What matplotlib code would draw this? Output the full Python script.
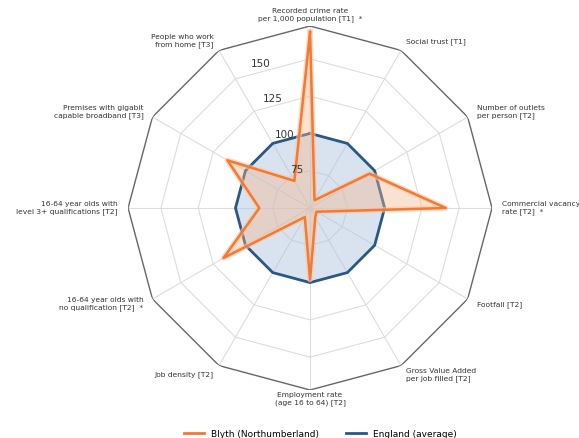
import numpy as np
import matplotlib.pyplot as plt
from matplotlib.lines import Line2D

categories = [
    "Recorded crime rate\nper 1,000 population [T1]  *",
    "Social trust [T1]",
    "Number of outlets\nper person [T2]",
    "Commercial vacancy\nrate [T2]  *",
    "Footfall [T2]",
    "Gross Value Added\nper job filled [T2]",
    "Employment rate\n(age 16 to 64) [T2]",
    "Job density [T2]",
    "16-64 year olds with\nno qualification [T2]  *",
    "16-64 year olds with\nlevel 3+ qualifications [T2]",
    "Premises with gigabit\ncapable broadband [T3]",
    "People who work\nfrom home [T3]",
]
blyth = [168, 56, 96, 141, 55, 57, 98, 57, 117, 84, 114, 71]
england = [100] * 12
rticks = [75, 100, 125, 150]
rmin, rmax = 50, 172

orange = "#f07a36"
blue = "#2b5783"

n = len(categories)
ang = np.linspace(0, 2 * np.pi, n, endpoint=False)
ang_c = np.append(ang, ang[0])

fig = plt.figure(figsize=(5.79, 4.38), dpi=100)
ax = fig.add_axes([0.221, 0.1096, 0.629, 0.831], projection="polar")
ax.set_theta_zero_location("N")
ax.set_theta_direction(-1)
ax.set_ylim(rmin, rmax)
ax.grid(False)
ax.spines["polar"].set_visible(False)
ax.set_xticks([])
ax.set_yticks([])

# polygon grid
for r in rticks:
    ax.plot(ang_c, [r] * (n + 1), color="#dddddd", lw=0.8, zorder=1)
for a in ang:
    ax.plot([a, a], [rmin, rmax], color="#dddddd", lw=0.8, zorder=1)
ax.plot(ang_c, [rmax] * (n + 1), color="#666666", lw=1.0, zorder=1)

# tick labels
for r in rticks:
    ax.text(np.deg2rad(-19), r + 2, str(r), ha="center", va="center",
            fontsize=7.5, color="#333333", zorder=5)

# series
eng = england + england[:1]
bly = blyth + blyth[:1]
ax.fill(ang_c, eng, color="#a9c3dc", alpha=0.45, zorder=2)
ax.plot(ang_c, eng, color=blue, lw=2, zorder=3)
ax.fill(ang_c, bly, color="#f4b890", alpha=0.4, zorder=3)
ax.plot(ang_c, bly, color="#f9c8a4", lw=4, alpha=0.6, zorder=4)
ax.plot(ang_c, bly, color=orange, lw=1.8, zorder=4)

# category labels
for a, lab in zip(ang, categories):
    s, c = np.sin(a), np.cos(a)
    if s > 0.1:
        ha = "left"
    elif s < -0.1:
        ha = "right"
    else:
        ha = "center"
    off = 7
    if c > 0.9:
        va, off = "bottom", 2.5
    elif c < -0.9:
        va, off = "top", 1.5
    else:
        va = "center"
    ax.text(a, rmax + off, lab, ha=ha, va=va, fontsize=5.4, color="#333333",
            linespacing=1.25, clip_on=False)

handles = [Line2D([], [], color=orange, lw=2), Line2D([], [], color=blue, lw=2)]
fig.legend(handles, ["Blyth (Northumberland)", "England (average)"],
           loc="lower center", bbox_to_anchor=(0.553, -0.02), ncol=2,
           frameon=False, fontsize=6.5, handlelength=2.2, columnspacing=3.0)

fig.savefig("out.png", dpi=100)
